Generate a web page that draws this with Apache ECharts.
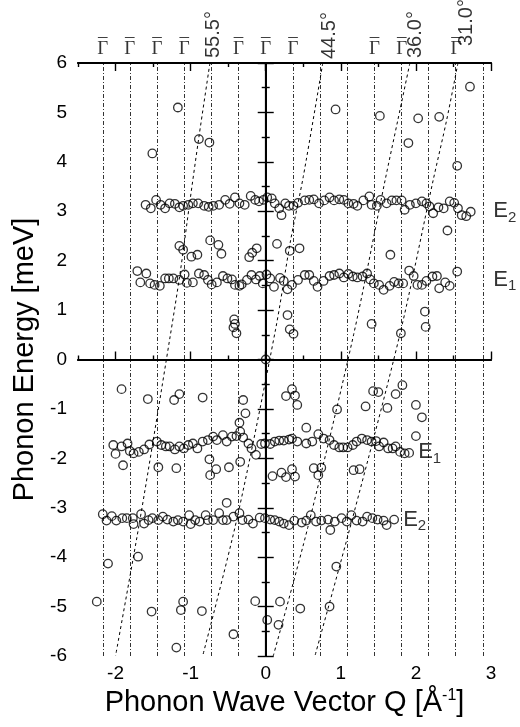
<!DOCTYPE html>
<html>
<head>
<meta charset="utf-8">
<script src="https://cdn.jsdelivr.net/npm/echarts@6/dist/echarts.min.js"></script>
<style>
  html, body { margin: 0; padding: 0; background: #fff; }
  #chart { width: 520px; height: 727px; }
</style>
</head>
<body>
<div id="chart"></div>
<script>
// axis ticks
const majorQ = [-2, -1, 0, 1, 2, 3]
const minorQ = [-2.5, -1.5, -0.5, 0.5, 1.5, 2.5]

// zone centre lines (Gamma-bar points) and the ones labelled on top
const gammaQ = [-2.172, -1.81, -1.448, -1.086, -0.724, -0.362, 0, 0.362, 0.724, 1.086, 1.448, 1.81, 2.172, 2.534, 2.896]
const gammaLabelQ = [-2.172, -1.81, -1.448, -1.086, -0.362, 0, 0.362, 1.448, 1.81, 2.534]

// scan curves at fixed scattering angle
const angleLabels = ['55.5°', '44.5°', '36.0°', '31.0°']
const angleLabelQ = [-0.70, 0.85, 2.0, 2.67]
const scan555 = [[-0.743, 6], [-0.89, 4.5], [-1.01, 3.2], [-1.14, 1.75], [-1.28, 0.4], [-1.67, -3.2], [-2.0, -6]]
const scan445 = [[0.76, 6], [0.5, 3.7], [0.33, 2.4], [0.13, 0.6], [-0.38, -3.2], [-0.84, -6]]
const scan360 = [[1.92, 6], [1.76, 4.85], [1.59, 3.63], [1.17, 0.5], [0.56, -3.4], [0.1, -6]]
const scan310 = [[2.56, 6], [2.41, 4.85], [2.23, 3.63], [1.79, 0.53], [1.16, -3.19], [0.655, -6]]

// measured phonon points [Q, E]
const e2Upper = [[-1.60, 3.13], [-1.53, 3.06], [-1.46, 3.23], [-1.40, 3.13], [-1.34, 3.06], [-1.28, 3.16], [-1.21, 3.15], [-1.15, 3.08], [-1.10, 3.11], [-1.03, 3.13], [-0.97, 3.16], [-0.90, 3.16], [-0.82, 3.11], [-0.76, 3.09], [-0.70, 3.11], [-0.62, 3.13], [-0.54, 3.23], [-0.48, 3.15], [-0.41, 3.28], [-0.35, 3.16], [-0.28, 3.13], [-0.20, 3.31], [-0.14, 3.23], [-0.09, 3.20], [-0.03, 3.23], [0.02, 3.28], [0.08, 3.26], [0.12, 3.16], [0.18, 3.06], [0.21, 2.92], [0.26, 3.16], [0.31, 3.11], [0.37, 3.11], [0.43, 3.17], [0.52, 3.22], [0.58, 3.23], [0.64, 3.24], [0.71, 3.16], [0.78, 3.22], [0.85, 3.28], [0.91, 3.22], [0.98, 3.24], [1.04, 3.23], [1.10, 3.16], [1.17, 3.15], [1.22, 3.11], [1.30, 3.22], [1.38, 3.30], [1.41, 3.13], [1.48, 3.11], [1.53, 3.23], [1.61, 3.16], [1.68, 3.22], [1.74, 3.22], [1.81, 3.22], [1.85, 3.03], [1.92, 3.13], [2.00, 3.16], [2.08, 3.20], [2.14, 3.16], [2.18, 3.10], [2.23, 2.96], [2.30, 3.08], [2.37, 3.06], [2.45, 3.20], [2.51, 3.17], [2.56, 3.06], [2.61, 2.92], [2.67, 2.90], [2.73, 2.99]]
const e1Upper = [[-1.71, 1.79], [-1.67, 1.56], [-1.59, 1.74], [-1.54, 1.54], [-1.48, 1.51], [-1.41, 1.49], [-1.34, 1.64], [-1.29, 1.64], [-1.23, 1.64], [-1.15, 1.61], [-1.08, 1.72], [-1.05, 1.55], [-0.97, 1.56], [-0.89, 1.74], [-0.82, 1.71], [-0.77, 1.61], [-0.72, 1.52], [-0.65, 1.56], [-0.57, 1.69], [-0.51, 1.64], [-0.45, 1.62], [-0.41, 1.51], [-0.35, 1.49], [-0.32, 1.52], [-0.25, 1.61], [-0.19, 1.71], [-0.13, 1.62], [-0.08, 1.69], [-0.04, 1.54], [0.01, 1.72], [0.06, 1.64], [0.11, 1.47], [0.19, 1.65], [0.24, 1.59], [0.29, 1.42], [0.35, 1.51], [0.43, 1.61], [0.52, 1.71], [0.58, 1.71], [0.64, 1.59], [0.69, 1.47], [0.77, 1.59], [0.85, 1.69], [0.91, 1.71], [0.98, 1.74], [1.04, 1.66], [1.10, 1.73], [1.16, 1.68], [1.22, 1.66], [1.29, 1.68], [1.35, 1.74], [1.39, 1.62], [1.44, 1.54], [1.51, 1.51], [1.57, 1.41], [1.65, 1.49], [1.71, 1.57], [1.77, 1.54], [1.83, 1.54], [1.91, 1.80], [1.97, 1.69], [2.02, 1.51], [2.08, 1.51], [2.14, 1.59], [2.22, 1.68], [2.28, 1.69], [2.31, 1.44], [2.39, 1.56], [2.45, 1.49]]
const e1Lower = [[-2.03, -1.73], [-2.00, -1.91], [-1.92, -1.76], [-1.84, -1.70], [-1.81, -1.85], [-1.76, -1.90], [-1.69, -1.87], [-1.62, -1.82], [-1.55, -1.72], [-1.45, -1.66], [-1.39, -1.73], [-1.33, -1.76], [-1.28, -1.76], [-1.21, -1.82], [-1.15, -1.76], [-1.09, -1.80], [-1.03, -1.73], [-0.97, -1.70], [-0.91, -1.80], [-0.84, -1.66], [-0.77, -1.63], [-0.70, -1.56], [-0.65, -1.63], [-0.57, -1.53], [-0.52, -1.66], [-0.45, -1.56], [-0.39, -1.55], [-0.34, -1.46], [-0.30, -1.58], [-0.23, -1.70], [-0.19, -1.80], [-0.13, -1.93], [-0.06, -1.71], [-0.01, -1.70], [0.06, -1.71], [0.12, -1.66], [0.18, -1.64], [0.24, -1.64], [0.31, -1.62], [0.35, -1.60], [0.42, -1.66], [0.54, -1.70], [0.62, -1.66], [0.70, -1.51], [0.77, -1.60], [0.85, -1.63], [0.91, -1.73], [0.98, -1.78], [1.03, -1.78], [1.09, -1.78], [1.16, -1.73], [1.21, -1.66], [1.28, -1.60], [1.35, -1.63], [1.41, -1.66], [1.47, -1.65], [1.51, -1.76], [1.57, -1.68], [1.63, -1.80], [1.69, -1.80], [1.73, -1.76], [1.79, -1.87], [1.85, -1.90], [1.91, -1.89]]
const e2Lower = [[-2.17, -3.13], [-2.12, -3.26], [-2.05, -3.17], [-1.99, -3.26], [-1.91, -3.21], [-1.85, -3.21], [-1.77, -3.21], [-1.76, -3.33], [-1.66, -3.13], [-1.62, -3.32], [-1.56, -3.25], [-1.51, -3.21], [-1.43, -3.25], [-1.37, -3.18], [-1.31, -3.24], [-1.23, -3.28], [-1.17, -3.25], [-1.10, -3.28], [-1.02, -3.15], [-1.00, -3.33], [-0.94, -3.25], [-0.88, -3.28], [-0.80, -3.15], [-0.77, -3.25], [-0.70, -3.25], [-0.62, -3.11], [-0.57, -3.25], [-0.52, -3.25], [-0.43, -3.18], [-0.35, -3.11], [-0.31, -3.25], [-0.23, -3.24], [-0.17, -3.32], [-0.08, -3.20], [-0.01, -3.21], [0.06, -3.24], [0.12, -3.25], [0.18, -3.28], [0.24, -3.32], [0.31, -3.35], [0.38, -3.26], [0.48, -3.30], [0.54, -3.26], [0.60, -3.15], [0.67, -3.28], [0.74, -3.26], [0.83, -3.24], [0.92, -3.28], [1.01, -3.21], [1.08, -3.28], [1.14, -3.15], [1.21, -3.26], [1.29, -3.28], [1.35, -3.18], [1.42, -3.21], [1.49, -3.24], [1.57, -3.26], [1.61, -3.35], [1.71, -3.24]]
const strayUpper = [[-1.17, 5.10], [-0.89, 4.46], [-0.75, 4.39], [-1.51, 4.17], [0.93, 5.06], [1.52, 4.93], [2.03, 4.88], [2.31, 4.91], [2.72, 5.52], [1.90, 4.38], [2.55, 3.92], [2.42, 2.61], [1.66, 2.12], [0.32, 2.20], [0.45, 2.25], [1.41, 0.72], [1.80, 0.53], [2.12, 0.97], [2.13, 0.66], [0.32, 0.61], [0.37, 0.52], [-1.15, 2.30], [-1.10, 2.22], [-0.99, 2.08], [-0.91, 2.12], [-0.74, 2.41], [-0.63, 2.32], [-0.59, 2.14], [-0.22, 2.07], [-0.18, 2.16], [-0.12, 2.25], [0.15, 2.34], [-0.42, 0.81], [-0.41, 0.72], [-0.43, 0.65], [-0.39, 0.53], [0.29, 0.90], [2.55, 1.78], [0, 0]]
const strayLower = [[-1.92, -0.60], [-1.57, -0.80], [-1.22, -0.82], [-1.15, -0.70], [-0.84, -0.77], [-0.30, -0.82], [-0.27, -1.09], [-0.35, -1.28], [0.27, -0.74], [0.35, -0.60], [0.39, -0.73], [0.42, -0.92], [0.95, -1.01], [1.33, -0.95], [1.43, -0.64], [1.50, -0.66], [1.62, -0.98], [1.73, -0.70], [1.82, -0.52], [2.00, -0.92], [2.08, -1.17], [2.00, -1.55], [0.54, -1.38], [0.64, -2.20], [0.70, -2.34], [0.74, -2.19], [1.17, -2.24], [1.25, -2.22], [0.35, -2.22], [0.39, -2.37], [-1.90, -2.14], [-1.43, -2.18], [-1.19, -2.20], [-0.75, -2.02], [-0.74, -2.34], [-0.66, -2.22], [-0.49, -2.18], [-0.34, -2.07], [-0.52, -2.90], [0.09, -2.36], [0.21, -2.29], [0.27, -2.38], [0.86, -3.45], [0.94, -4.19], [0.46, -5.04], [0.85, -5.00], [-2.10, -4.13], [-1.70, -3.99], [-2.25, -4.90], [-1.52, -5.10], [-1.10, -4.90], [-1.13, -5.07], [-0.85, -5.09], [-1.19, -5.83], [-0.43, -5.56], [-0.14, -4.89], [0.02, -5.27], [0.19, -4.90], [0.17, -5.37]]

// branch names next to the bands
const stateLabels = ['E{s|2}', 'E{s|1}', 'E{s|1}', 'E{s|2}']
const stateLabelAt = [[3.03, 3.0], [3.03, 1.62], [2.03, -1.88], [1.83, -3.24]]

const font = '"Liberation Sans", Arial, Helvetica, sans-serif'
const serif = '"Liberation Serif", "DejaVu Serif", serif'
const angleLift = [5, 4, 5, 17]

const tickStyle = { color: '#000', width: 1.4 }

function qAxis(extra) {
  return Object.assign({
    type: 'value',
    min: -2.5,
    max: 3,
    splitLine: { show: false },
    axisLine: { show: true, lineStyle: { color: '#000', width: 1.8 }},
    axisLabel: { show: false }
  }, extra)
}

function eAxis(extra) {
  return Object.assign({
    type: 'value',
    min: -6,
    max: 6,
    interval: 1,
    splitLine: { show: false },
    axisLine: { show: true, lineStyle: { color: '#000', width: 1.8 }},
    axisTick: { inside: true, length: 8, lineStyle: tickStyle },
    minorTick: { show: true, splitNumber: 2, length: 4, lineStyle: tickStyle },
    axisLabel: { show: false }
  }, extra)
}

// text sitting above the frame, anchored on Q at the top energy
function topText(qs, text, distance, size, family) {
  return {
    type: 'scatter',
    data: qs.map(q => [q, 6]),
    symbolSize: 0,
    clip: false,
    silent: true,
    label: {
      show: true, position: 'top', distance: distance,
      formatter: text, fontSize: size, color: '#000', fontFamily: family
    }
  }
}

const chart = echarts.init(document.getElementById('chart'))

chart.setOption({
  animation: false,
  backgroundColor: '#fff',
  grid: { left: 78, right: 29, top: 63, bottom: 71 },
  xAxis: [
    qAxis({
      position: 'bottom',
      axisTick: { inside: true, length: 8, customValues: majorQ, lineStyle: tickStyle },
      axisLabel: {
        show: true, customValues: majorQ, margin: 8,
        fontSize: 19, color: '#000', fontFamily: font
      },
      name: '{t|Phonon Wave Vector Q [Å}{u|-1}{t|]}',
      nameLocation: 'middle',
      nameGap: 30,
      nameTextStyle: {
        rich: {
          t: { fontSize: 29, lineHeight: 30, color: '#000', fontFamily: font },
          u: { fontSize: 16, lineHeight: 16, verticalAlign: 'top', color: '#000', fontFamily: font }
        }
      }
    }),
    qAxis({ position: 'bottom', axisTick: { inside: true, length: 4, customValues: minorQ, lineStyle: tickStyle }}),
    qAxis({ position: 'top', axisTick: { inside: true, length: 8, customValues: majorQ, lineStyle: tickStyle }}),
    qAxis({ position: 'top', axisTick: { inside: true, length: 4, customValues: minorQ, lineStyle: tickStyle }})
  ],
  yAxis: [
    eAxis({
      position: 'left',
      axisLabel: { show: true, margin: 11, fontSize: 19, color: '#000', fontFamily: font },
      name: 'Phonon Energy [meV]',
      nameLocation: 'middle',
      nameGap: 29,
      nameTextStyle: { fontSize: 29, color: '#000', fontFamily: font }
    }),
    eAxis({ position: 'right' })
  ],
  series: [
    {
      // zone centre lines
      type: 'line',
      data: [],
      silent: true,
      markLine: {
        silent: true,
        symbol: 'none',
        label: { show: false },
        lineStyle: { color: '#000', width: 0.8, type: [4, 2, 1, 2] },
        data: gammaQ.map(q => ({ xAxis: q }))
      }
    },
    {
      // zero energy / zero wave vector
      type: 'line',
      data: [],
      silent: true,
      markLine: {
        silent: true,
        symbol: 'none',
        label: { show: false },
        lineStyle: { color: '#000', width: 1.2, type: 'solid' },
        data: [{ xAxis: 0 }, { yAxis: 0 }]
      }
    },
    ...[scan555, scan445, scan360, scan310].map(pts => ({
      type: 'line',
      data: pts,
      showSymbol: false,
      smooth: 0.3,
      silent: true,
      lineStyle: { color: '#000', width: 1, type: [3, 3] }
    })),
    {
      type: 'scatter',
      data: [].concat(e2Upper, e1Upper, e1Lower, e2Lower, strayUpper, strayLower),
      symbol: 'circle',
      symbolSize: 8.5,
      itemStyle: { color: 'rgba(0,0,0,0)', borderColor: '#000', borderWidth: 1.3 },
      z: 5
    },
    // Gamma with a bar drawn above it
    topText(gammaLabelQ, 'Γ', 4, 19, serif),
    topText(gammaLabelQ, '–', 16, 19, serif),
    {
      // scattering angle labels
      type: 'scatter',
      data: angleLabelQ.map((q, i) => ({ value: [q, 6], name: angleLabels[i], label: { distance: angleLift[i] }})),
      symbolSize: 0,
      clip: false,
      silent: true,
      label: {
        show: true, position: 'top', rotate: 90, align: 'left', verticalAlign: 'middle',
        formatter: '{b}', fontSize: 20, color: '#000', fontFamily: font
      }
    },
    {
      // branch labels
      type: 'scatter',
      data: stateLabelAt.map((p, i) => ({ value: p, name: stateLabels[i] })),
      symbolSize: 0,
      clip: false,
      silent: true,
      label: {
        show: true, position: 'right', distance: 0,
        formatter: '{b}',
        fontSize: 22, lineHeight: 28, color: '#000', fontFamily: font,
        rich: {
          s: { fontSize: 15, lineHeight: 16, verticalAlign: 'bottom', color: '#000', fontFamily: font }
        }
      }
    }
  ]
})
</script>
</body>
</html>
